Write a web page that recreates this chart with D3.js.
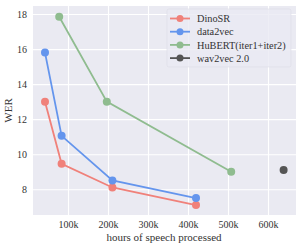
<!DOCTYPE html>
<html>
<head>
<meta charset="utf-8">
<script src="https://cdn.jsdelivr.net/npm/d3@7"></script>
<style>
  body { margin: 0; background: #fff; }
  text { font-family: "Liberation Serif", "DejaVu Serif", serif; }
</style>
</head>
<body>
<div id="chart"></div>
<script>
// series: hours of speech processed (k) and WER
const dinoHours = [42.5, 84, 211, 420]
const dinoWer = [13.0, 9.45, 8.1, 7.1]
const d2vHours = [42.5, 84, 211, 420]
const d2vWer = [15.8, 11.05, 8.5, 7.5]
const hubertHours = [78, 197, 508]
const hubertWer = [17.85, 13.0, 9.0]
const w2vHours = [639]
const w2vWer = [9.1]

const xTicks = [100, 200, 300, 400, 500, 600]
const yTicks = [8, 10, 12, 14, 16, 18]

const seriesNames = ['DinoSR', 'data2vec', 'HuBERT(iter1+iter2)', 'wav2vec 2.0']
const seriesColors = ['#f0817a', '#6495ed', '#8fbc8f', '#555555']

const series = [
  { name: seriesNames[0], color: seriesColors[0], pts: dinoHours.map((h, i) => [h, dinoWer[i]]) },
  { name: seriesNames[1], color: seriesColors[1], pts: d2vHours.map((h, i) => [h, d2vWer[i]]) },
  { name: seriesNames[2], color: seriesColors[2], pts: hubertHours.map((h, i) => [h, hubertWer[i]]) },
  { name: seriesNames[3], color: seriesColors[3], pts: w2vHours.map((h, i) => [h, w2vWer[i]]) },
]

const width = 300, height = 245
const margin = { top: 6, right: 4, bottom: 30, left: 33 }
const innerWidth = width - margin.left - margin.right
const innerHeight = height - margin.top - margin.bottom

const svg = d3.select('#chart').append('svg')
  .attr('width', width)
  .attr('height', height)

const g = svg.append('g')
  .attr('transform', `translate(${margin.left},${margin.top})`)

const x = d3.scaleLinear().domain([12.5, 670]).range([0, innerWidth])
const y = d3.scaleLinear().domain([6.53, 18.46]).range([innerHeight, 0])

g.append('rect')
  .attr('width', innerWidth)
  .attr('height', innerHeight)
  .attr('fill', '#eaeaf2')

// grid + ticks
const xAxis = d3.axisBottom(x).tickValues(xTicks).tickFormat(d => d + 'k')
  .tickSize(-innerHeight).tickPadding(6)
const yAxis = d3.axisLeft(y).tickValues(yTicks)
  .tickSize(-innerWidth).tickPadding(6)

const xg = g.append('g').attr('transform', `translate(0,${innerHeight})`).call(xAxis)
const yg = g.append('g').call(yAxis)
;[xg, yg].forEach(a => {
  a.select('.domain').remove()
  a.selectAll('.tick line').attr('stroke', '#fff').attr('stroke-width', 1.1)
  a.selectAll('.tick text').attr('fill', '#333').style('font-size', '10px')
})

const line = d3.line().x(d => x(d[0])).y(d => y(d[1]))

series.forEach(s => {
  g.append('path')
    .datum(s.pts)
    .attr('d', line)
    .attr('fill', 'none')
    .attr('stroke', s.color)
    .attr('stroke-width', 1.8)
  g.selectAll(null).data(s.pts).enter().append('circle')
    .attr('cx', d => x(d[0]))
    .attr('cy', d => y(d[1]))
    .attr('r', 4)
    .attr('fill', s.color)
})

// legend
const lg = svg.append('g').attr('transform', 'translate(167,9)')
lg.append('rect')
  .attr('width', 124).attr('height', 58).attr('rx', 2)
  .attr('fill', '#eaeaf2').attr('fill-opacity', 0.8)
  .attr('stroke', '#dcdce6').attr('stroke-width', 0.6)
series.forEach((s, i) => {
  const yy = 9.5 + i * 13.2
  lg.append('line').attr('x1', 3).attr('x2', 23).attr('y1', yy).attr('y2', yy)
    .attr('stroke', s.color).attr('stroke-width', 1.8)
  lg.append('circle').attr('cx', 13).attr('cy', yy).attr('r', 3.5).attr('fill', s.color)
  lg.append('text').attr('x', 30).attr('y', yy).attr('dy', '0.35em')
    .style('font-size', '10.3px').attr('fill', '#333').text(s.name)
})

svg.append('text')
  .attr('x', 164).attr('y', 241)
  .attr('text-anchor', 'middle').style('font-size', '11px').attr('fill', '#333')
  .text('hours of speech processed')

svg.append('text')
  .attr('transform', `translate(12,${margin.top + innerHeight / 2}) rotate(-90)`)
  .attr('text-anchor', 'middle').style('font-size', '11px').attr('fill', '#333')
  .text('WER')
</script>
</body>
</html>
